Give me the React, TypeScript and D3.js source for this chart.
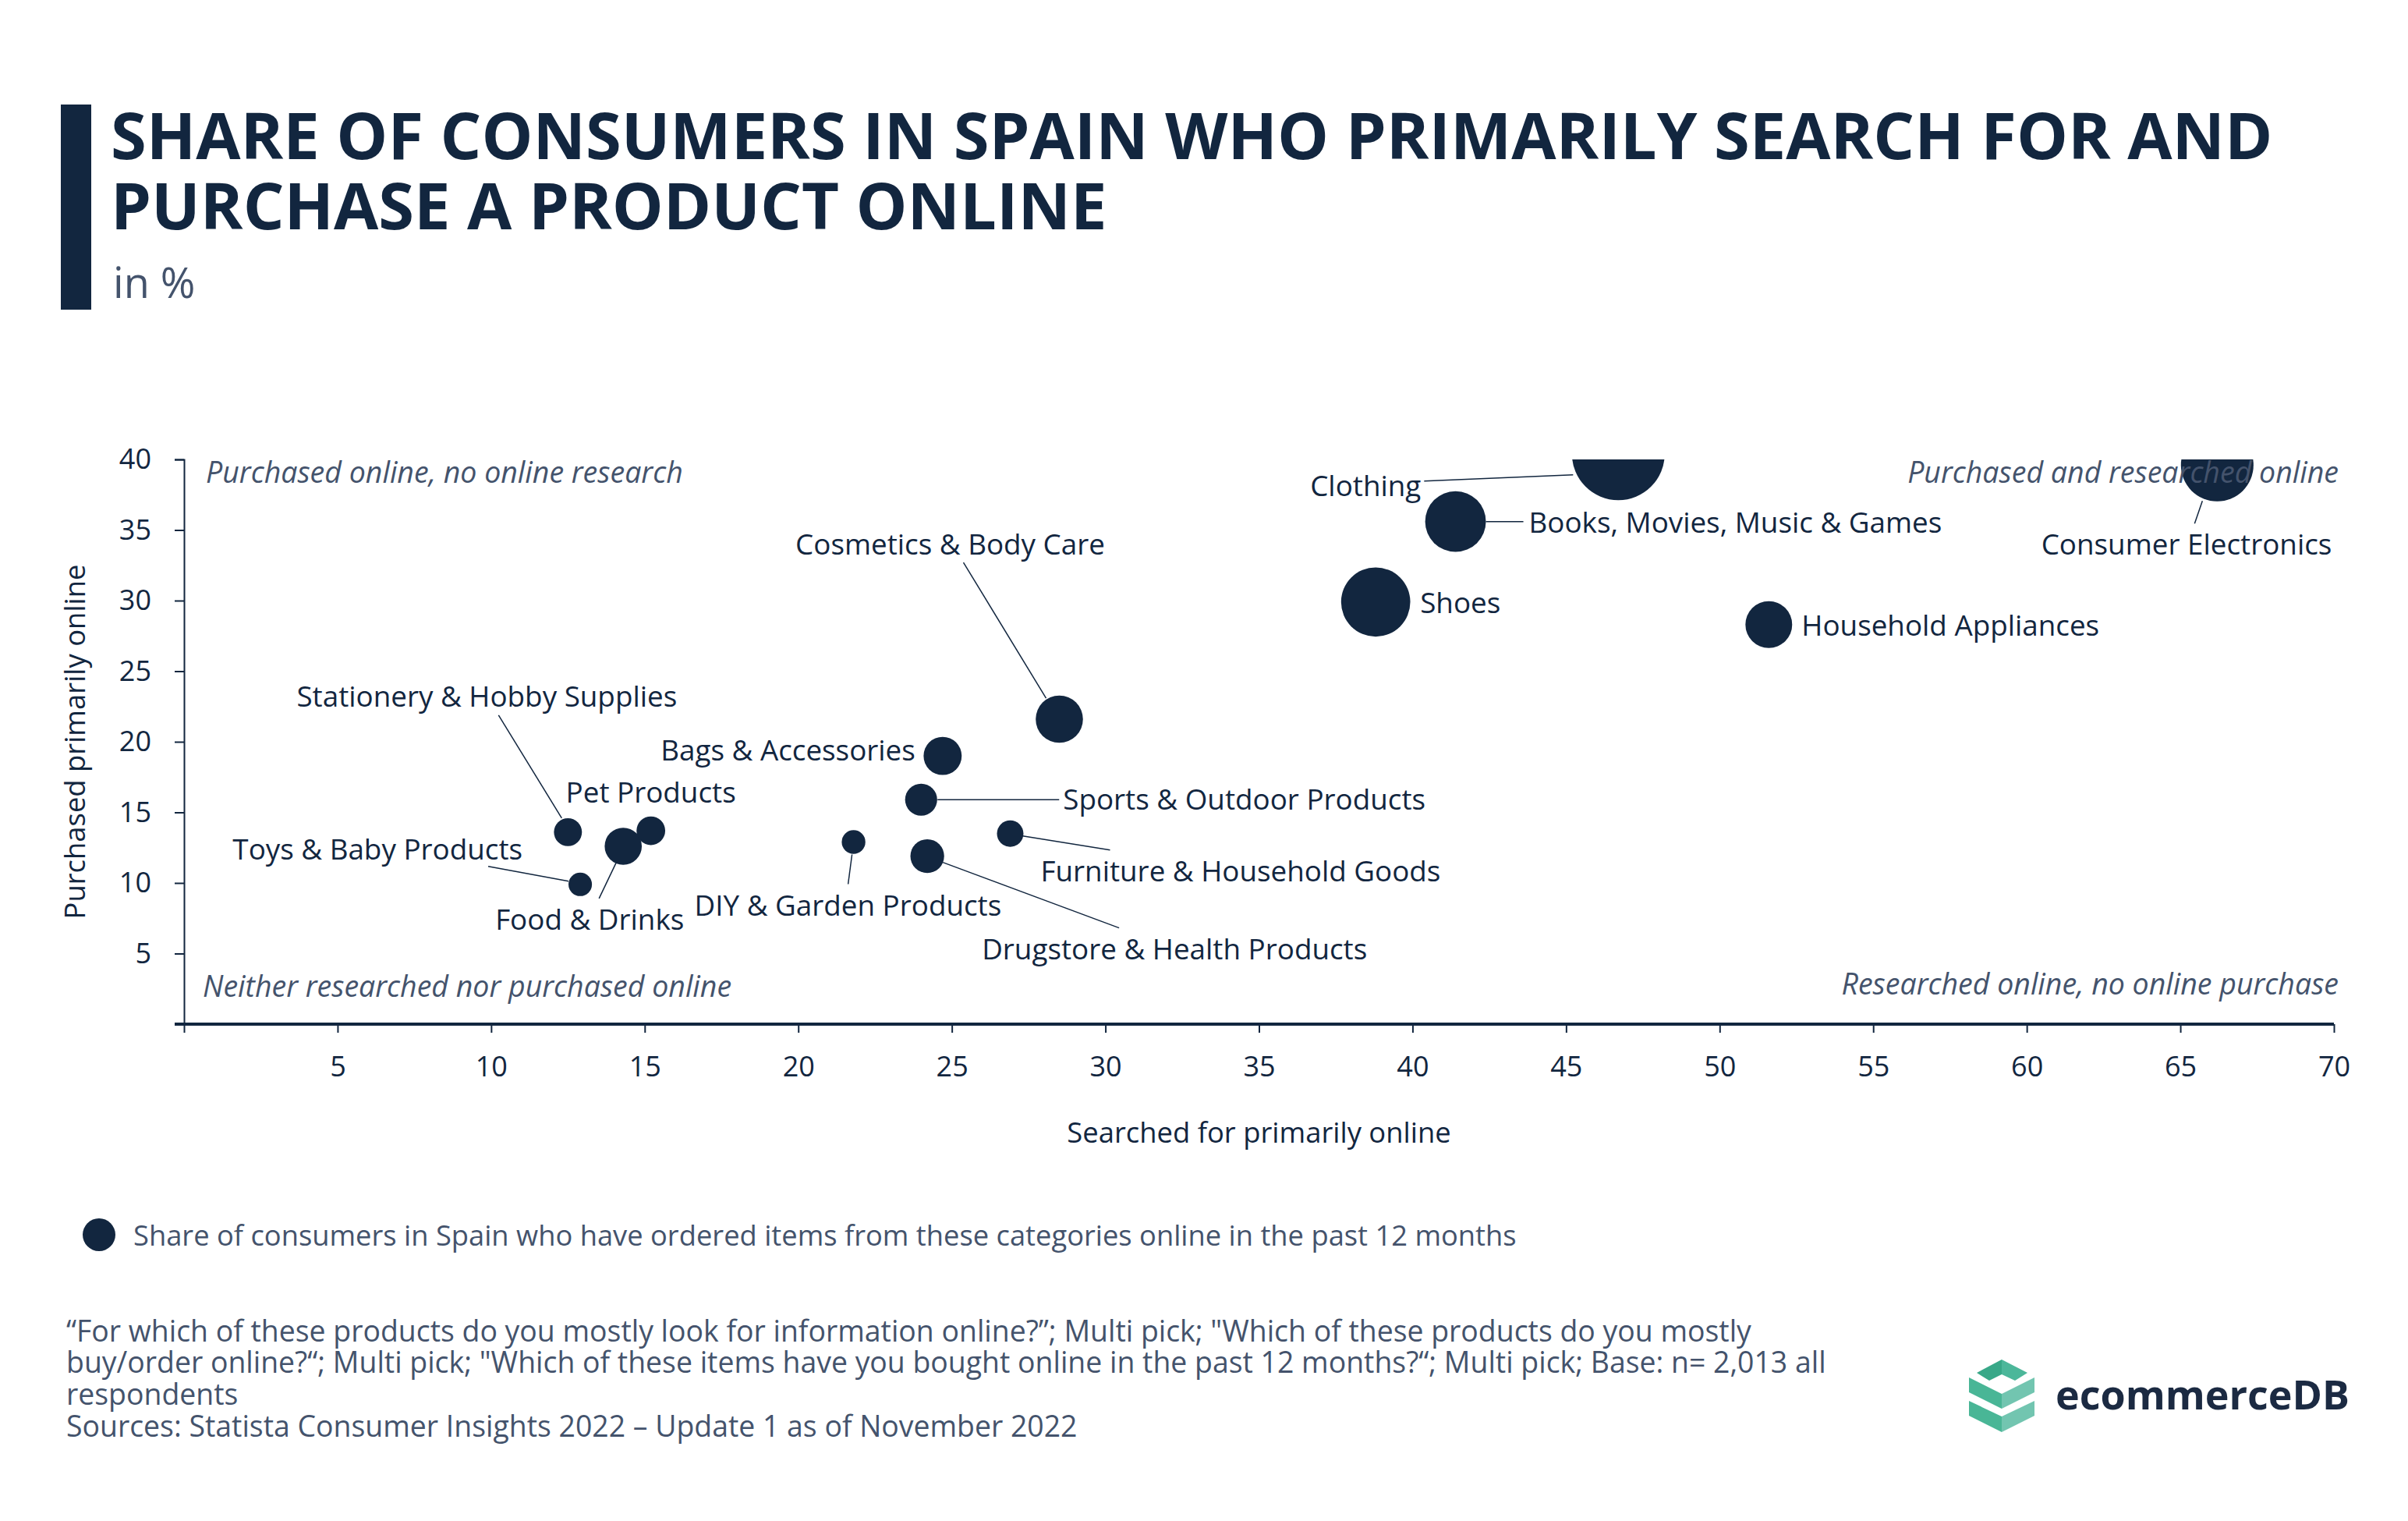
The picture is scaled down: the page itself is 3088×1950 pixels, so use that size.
import React, { useEffect, useRef } from "react";
import * as d3 from "d3";

// Werte
const categories = [
  "Clothing",
  "Books, Movies, Music & Games",
  "Consumer Electronics",
  "Shoes",
  "Household Appliances",
  "Cosmetics & Body Care",
  "Bags & Accessories",
  "Sports & Outdoor Products",
  "Furniture & Household Goods",
  "DIY & Garden Products",
  "Drugstore & Health Products",
  "Stationery & Hobby Supplies",
  "Food & Drinks",
  "Pet Products",
  "Toys & Baby Products",
];
const searchedOnline = [46.7, 41.4, 66.2, 38.8, 51.6, 28.5, 24.7, 24.0, 26.9, 21.8, 24.2, 12.5, 14.3, 15.2, 12.9];
const purchasedOnline = [40.4, 35.6, 39.6, 29.9, 28.3, 21.6, 19.0, 15.9, 13.5, 12.9, 11.9, 13.6, 12.6, 13.7, 9.9];
const orderedOnline = [55, 36, 43, 41, 27.7, 28, 22.6, 19, 15.7, 14, 20, 16.6, 22, 17, 13.9];

const xTickValues = [0, 5, 10, 15, 20, 25, 30, 35, 40, 45, 50, 55, 60, 65, 70];
const yTickValues = [0, 5, 10, 15, 20, 25, 30, 35, 40];

const titleLines = [
  "SHARE OF CONSUMERS IN SPAIN WHO PRIMARILY SEARCH FOR AND",
  "PURCHASE A PRODUCT ONLINE",
];
const footnoteLines = [
  "\u201CFor which of these products do you mostly look for information online?\u201D; Multi pick; \"Which of these products do you mostly",
  "buy/order online?\u201C; Multi pick; \"Which of these items have you bought online in the past 12 months?\u201C; Multi pick; Base: n= 2,013 all",
  "respondents",
  "Sources: Statista Consumer Insights 2022 \u2013 Update 1 as of November 2022",
];

// label offsets relative to the bubble centre (px)
const labelPlacement = {
  "Clothing": { anchor: "end", dx: -253, dy: 40, leader: [-249, 35, -58, 27] },
  "Books, Movies, Music & Games": { anchor: "start", dx: 94, dy: 0, leader: [39, 0, 87, 0] },
  "Consumer Electronics": { anchor: "end", dx: 147, dy: 101, leader: [-19, 46, -29, 75] },
  "Shoes": { anchor: "start", dx: 57, dy: 0 },
  "Household Appliances": { anchor: "start", dx: 42, dy: 0 },
  "Cosmetics & Body Care": { anchor: "middle", dx: -140, dy: -225, leader: [-123, -201, -17, -27] },
  "Bags & Accessories": { anchor: "end", dx: -35, dy: -8 },
  "Sports & Outdoor Products": { anchor: "start", dx: 182, dy: -1, leader: [21, 0, 177, 0] },
  "Furniture & Household Goods": { anchor: "start", dx: 39, dy: 47, leader: [16, 3, 128, 21] },
  "DIY & Garden Products": { anchor: "start", dx: -204, dy: 80, leader: [-2, 16, -7, 54] },
  "Drugstore & Health Products": { anchor: "start", dx: 70, dy: 118, leader: [20, 8, 246, 92] },
  "Stationery & Hobby Supplies": { anchor: "middle", dx: -104, dy: -175, leader: [-89, -150, -8, -18] },
  "Food & Drinks": { anchor: "middle", dx: -43, dy: 93, leader: [-31, 67, -9, 21] },
  "Pet Products": { anchor: "middle", dx: 0, dy: -50 },
  "Toys & Baby Products": { anchor: "end", dx: -74, dy: -46, leader: [-118, -23, -15, -4] },
};

const NAVY = "#12263f";
const GREY = "#44536c";
const FONT = "'Open Sans', sans-serif";

const App = () => {
  const svgRef = useRef(null);

  useEffect(() => {
    const svg = d3.select(svgRef.current);
    svg.selectAll("*").remove();

    const plot = { left: 236, right: 2993, top: 589, bottom: 1313 };

    const x = d3.scaleLinear().domain([0, 70]).range([plot.left, plot.right]);
    const y = d3.scaleLinear().domain([0, 40]).range([plot.bottom, plot.top]);
    const r = d3.scaleLinear().domain([0, 55]).range([0, 59.5]);

    const data = categories.map((name, i) => ({
      name,
      x: searchedOnline[i],
      y: purchasedOnline[i],
      size: orderedOnline[i],
    }));

    // Titel
    svg.append("rect")
      .attr("x", 78).attr("y", 134).attr("width", 39).attr("height", 263)
      .attr("fill", NAVY);

    svg.append("g")
      .selectAll("text")
      .data(titleLines)
      .enter()
      .append("text")
      .attr("x", 142)
      .attr("y", (d, i) => 204 + i * 90)
      .attr("fill", NAVY)
      .style("font-family", FONT)
      .style("font-weight", 700)
      .style("font-size", "83px")
      .text((d) => d);

    svg.append("text")
      .attr("x", 145).attr("y", 382)
      .attr("fill", GREY)
      .style("font-family", FONT)
      .style("font-size", "54px")
      .text("in %");

    // Achsen
    const xAxis = svg.append("g")
      .attr("transform", `translate(0,${plot.bottom})`)
      .call(d3.axisBottom(x).tickValues(xTickValues).tickSize(11).tickPadding(30)
        .tickFormat((d) => (d === 0 ? "" : d)));
    xAxis.select(".domain").remove();
    xAxis.selectAll("line").attr("stroke", NAVY).attr("stroke-width", 2);
    xAxis.selectAll("text").attr("fill", NAVY).style("font-family", FONT).style("font-size", "36px");

    const yAxis = svg.append("g")
      .attr("transform", `translate(${plot.left},0)`)
      .call(d3.axisLeft(y).tickValues(yTickValues).tickSize(12).tickPadding(30)
        .tickFormat((d) => (d === 0 ? "" : d)));
    yAxis.select(".domain").attr("stroke", NAVY).attr("stroke-width", 2);
    yAxis.selectAll("line").attr("stroke", NAVY).attr("stroke-width", 2);
    yAxis.selectAll("text").attr("fill", NAVY).style("font-family", FONT).style("font-size", "36px");

    svg.append("line")
      .attr("x1", plot.left - 12).attr("x2", plot.right)
      .attr("y1", plot.bottom).attr("y2", plot.bottom)
      .attr("stroke", NAVY).attr("stroke-width", 4);

    svg.append("text")
      .attr("text-anchor", "middle")
      .attr("transform", `translate(${(plot.left + plot.right) / 2},1451)`)
      .attr("dominant-baseline", "central")
      .attr("fill", NAVY)
      .style("font-family", FONT)
      .style("font-size", "36.4px")
      .text("Searched for primarily online");

    svg.append("text")
      .attr("text-anchor", "middle")
      .attr("transform", `translate(95,${(plot.top + plot.bottom) / 2}) rotate(-90)`)
      .attr("dominant-baseline", "central")
      .attr("fill", NAVY)
      .style("font-family", FONT)
      .style("font-size", "36.4px")
      .text("Purchased primarily online");

    // Blasen
    svg.append("clipPath").attr("id", "plot-clip")
      .append("rect")
      .attr("x", plot.left).attr("y", plot.top)
      .attr("width", plot.right - plot.left).attr("height", plot.bottom - plot.top);

    svg.append("g")
      .attr("clip-path", "url(#plot-clip)")
      .selectAll("circle")
      .data(data)
      .enter()
      .append("circle")
      .attr("cx", (d) => x(d.x))
      .attr("cy", (d) => y(d.y))
      .attr("r", (d) => r(d.size))
      .attr("fill", NAVY);

    // Quadranten-Beschriftung
    const quadrants = [
      { text: "Purchased online, no online research", x: 264, y: 604, anchor: "start" },
      { text: "Purchased and researched online", x: 2999, y: 604, anchor: "end" },
      { text: "Neither researched nor purchased online", x: 260, y: 1263, anchor: "start" },
      { text: "Researched online, no online purchase", x: 2999, y: 1260, anchor: "end" },
    ];
    svg.append("g")
      .selectAll("text")
      .data(quadrants)
      .enter()
      .append("text")
      .attr("x", (d) => d.x)
      .attr("y", (d) => d.y)
      .attr("text-anchor", (d) => d.anchor)
      .attr("dominant-baseline", "central")
      .attr("fill", GREY)
      .style("font-family", FONT)
      .style("font-style", "italic")
      .style("font-size", "37.5px")
      .text((d) => d.text);

    // Verbindungslinien und Etiketten
    const labelled = data.filter((d) => labelPlacement[d.name]);
    svg.append("g")
      .selectAll("line")
      .data(labelled.filter((d) => labelPlacement[d.name].leader))
      .enter()
      .append("line")
      .attr("x1", (d) => x(d.x) + labelPlacement[d.name].leader[0])
      .attr("y1", (d) => y(d.y) + labelPlacement[d.name].leader[1])
      .attr("x2", (d) => x(d.x) + labelPlacement[d.name].leader[2])
      .attr("y2", (d) => y(d.y) + labelPlacement[d.name].leader[3])
      .attr("stroke", NAVY)
      .attr("stroke-width", 1.5);

    svg.append("g")
      .selectAll("text")
      .data(labelled)
      .enter()
      .append("text")
      .attr("x", (d) => x(d.x) + labelPlacement[d.name].dx)
      .attr("y", (d) => y(d.y) + labelPlacement[d.name].dy)
      .attr("text-anchor", (d) => labelPlacement[d.name].anchor)
      .attr("dominant-baseline", "central")
      .attr("fill", NAVY)
      .style("font-family", FONT)
      .style("font-size", "36.8px")
      .text((d) => d.name);

    // Legende
    svg.append("circle")
      .attr("cx", 127).attr("cy", 1583).attr("r", 21)
      .attr("fill", NAVY);
    svg.append("text")
      .attr("x", 171).attr("y", 1583)
      .attr("dominant-baseline", "central")
      .attr("fill", GREY)
      .style("font-family", FONT)
      .style("font-size", "36.3px")
      .text("Share of consumers in Spain who have ordered items from these categories online in the past 12 months");

    // Fußnote
    svg.append("g")
      .selectAll("text")
      .data(footnoteLines)
      .enter()
      .append("text")
      .attr("x", 85)
      .attr("y", (d, i) => 1705 + i * 40.7)
      .attr("dominant-baseline", "central")
      .attr("fill", GREY)
      .style("font-family", FONT)
      .style("font-size", "37.4px")
      .text((d) => d);

    // Logo
    const logo = svg.append("g").attr("transform", "translate(2525,1743)");
    const shapes = [
      { pts: [[10, 17], [42, 0], [42, 19], [26, 27]], fill: "#38a888" },
      { pts: [[42, 0], [75, 17], [59, 27], [42, 19]], fill: "#4cb79a" },
      { pts: [[0, 23], [42, 44], [42, 63], [0, 42]], fill: "#49b696" },
      { pts: [[42, 44], [84, 23], [84, 42], [42, 63]], fill: "#72c5b0" },
      { pts: [[0, 53], [42, 73], [42, 93], [0, 72]], fill: "#49b696" },
      { pts: [[42, 73], [84, 53], [84, 72], [42, 93]], fill: "#72c5b0" },
    ];
    logo.selectAll("path")
      .data(shapes)
      .enter()
      .append("path")
      .attr("d", (d) => d3.line()(d.pts) + "Z")
      .attr("fill", (d) => d.fill);
    svg.append("text")
      .attr("x", 2636).attr("y", 1807)
      .attr("fill", "#1b2a42")
      .style("font-family", FONT)
      .style("font-weight", 700)
      .style("font-size", "52px")
      .text("ecommerceDB");
  }, []);

  return (
    <svg
      ref={svgRef}
      width={3088}
      height={1950}
      style={{ position: "absolute", left: 0, top: 0, background: "#fff" }}
    ></svg>
  );
};

export default App;
